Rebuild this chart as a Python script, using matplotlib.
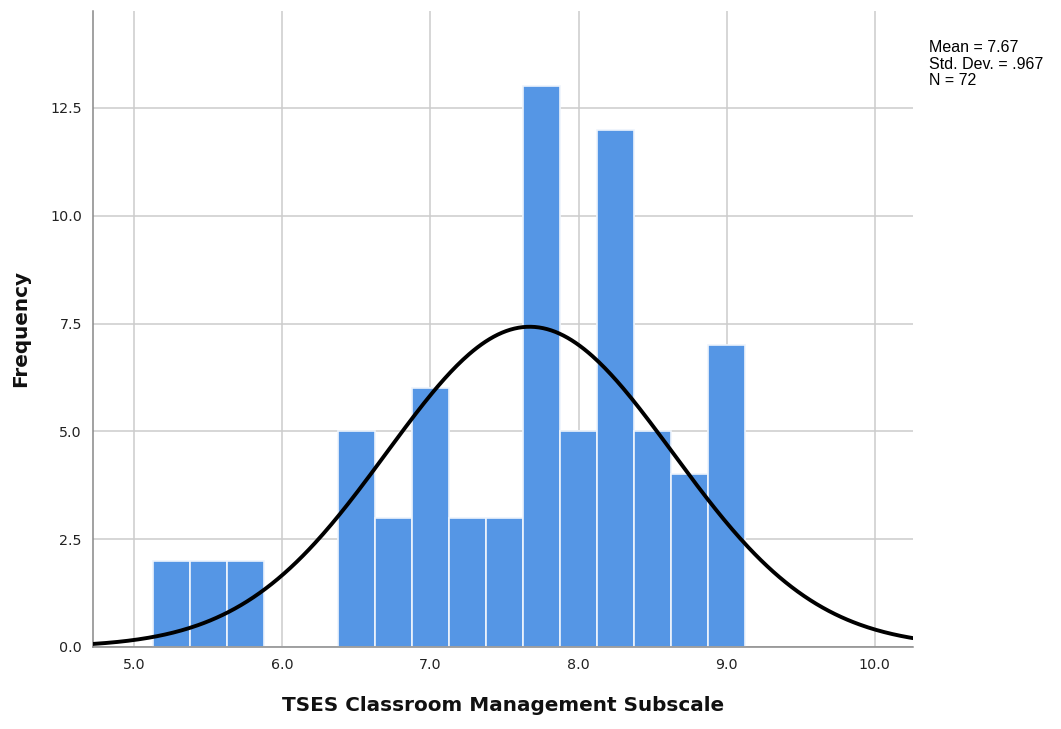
import numpy as np
import matplotlib.pyplot as plt

# histogram bins (width 0.25) and counts
bin_edges = [5.125, 5.375, 5.625, 5.875, 6.125, 6.375, 6.625, 6.875, 7.125,
             7.375, 7.625, 7.875, 8.125, 8.375, 8.625, 8.875, 9.125]
counts = [2, 2, 2, 0, 0, 5, 3, 6, 3, 3, 13, 5, 12, 5, 4, 7]
mean = 7.67
sd = 0.967
n = 72

x_ticks = [5.0, 6.0, 7.0, 8.0, 9.0, 10.0]
y_ticks = [0.0, 2.5, 5.0, 7.5, 10.0, 12.5]

fig = plt.figure(figsize=(10.61, 7.29), dpi=100)
ax = fig.add_axes([0.0877, 0.1125, 0.7728, 0.8725])

edges = np.array(bin_edges)
ax.bar(edges[:-1], counts, width=np.diff(edges), align='edge',
       color='#5596e5', edgecolor='#eef4fc', linewidth=1.2, zorder=2)

# normal curve scaled to counts
bw = edges[1] - edges[0]
xs = np.linspace(4.72, 10.26, 400)
ys = n * bw / (sd * np.sqrt(2 * np.pi)) * np.exp(-0.5 * ((xs - mean) / sd) ** 2)
ax.plot(xs, ys, color='black', linewidth=2.8, zorder=3, solid_capstyle='round')

ax.set_xlim(4.72, 10.26)
ax.set_ylim(0, 14.75)
ax.set_xticks(x_ticks)
ax.set_xticklabels(['%.1f' % v for v in x_ticks])
ax.set_yticks(y_ticks)
ax.set_yticklabels(['%.1f' % v for v in y_ticks])
ax.grid(True, color='#cccccc', linewidth=1.1, zorder=0)
ax.set_axisbelow(True)
ax.tick_params(length=0, labelsize=10.3, colors='#222222', pad=8)

for s in ['top', 'right']:
    ax.spines[s].set_visible(False)
for s in ['left', 'bottom']:
    ax.spines[s].set_color('#888888')
    ax.spines[s].set_linewidth(1.1)

ax.set_xlabel('TSES Classroom Management Subscale', fontsize=14.4,
              fontweight='bold', labelpad=17, color='#111111')
ax.set_ylabel('Frequency', fontsize=14.4, fontweight='bold', labelpad=14,
              color='#111111')

fig.text(0.876, 0.945, 'Mean = 7.67\nStd. Dev. = .967\nN = 72',
         fontsize=11.5, family='Liberation Sans', va='top', ha='left',
         linespacing=1.12)

fig.savefig('out.png', dpi=100)
